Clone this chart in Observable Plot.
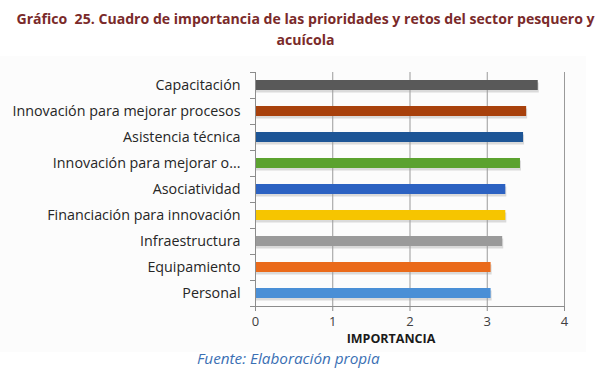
<!DOCTYPE html>
<html>
<head>
<meta charset="utf-8">
<script src="https://cdn.jsdelivr.net/npm/d3@7"></script>
<script src="https://cdn.jsdelivr.net/npm/@observablehq/plot@0.6"></script>
<style>
  html, body { margin: 0; padding: 0; background: #ffffff; }
  #wrap { position: relative; width: 611px; height: 375px; overflow: hidden; font-family: "Open Sans", sans-serif; }
  #title { position: absolute; left: 0; top: 8px; width: 611px; text-align: center; font-weight: bold; font-size: 14.1px; line-height: 21px; color: #7a2a2a; white-space: nowrap; }
  #chartbg { position: absolute; left: 0; top: 56px; width: 586px; height: 296px; background: #fcfcfc; }
  #plot { position: absolute; left: 0; top: 60px; }
  #xlabel { position: absolute; left: 291px; top: 331px; width: 200px; text-align: center; font-weight: bold; font-size: 12.5px; line-height: 15px; color: #1a1a1a; }
  #caption { position: absolute; left: 197px; top: 348px; font-style: italic; font-size: 15.3px; color: #3b70b4; }
</style>
</head>
<body>
<div id="wrap">
  <div id="title">Gráfico&nbsp; 25. Cuadro de importancia de las prioridades y retos del sector pesquero y<br>acuícola</div>
  <div id="chartbg"></div>
  <div id="plot"></div>
  <div id="xlabel">IMPORTANCIA</div>
  <div id="caption">Fuente: Elaboración propia</div>
</div>
<script>
const categories = [
  "Capacitación",
  "Innovación para mejorar procesos",
  "Asistencia técnica",
  "Innovación para mejorar o...",
  "Asociatividad",
  "Financiación para innovación",
  "Infraestructura",
  "Equipamiento",
  "Personal"
];
const values = [3.66, 3.51, 3.47, 3.43, 3.24, 3.24, 3.20, 3.05, 3.05];
const barColors = ["#595959", "#a8410c", "#1d5596", "#5ba22f", "#2c62c2", "#f6c500", "#9a9a9a", "#ea6a1a", "#4a8fd6"];
const xTicks = [0, 1, 2, 3, 4];

const data = categories.map((c, i) => ({category: c, value: values[i], color: barColors[i]}));
const lastCat = categories[categories.length - 1];

const chart = Plot.plot({
  width: 611,
  height: 290,
  marginLeft: 255,
  marginRight: 47,
  marginTop: 12,
  marginBottom: 44,
  style: {fontFamily: "'Open Sans', sans-serif", fontSize: "13px", color: "#404040", background: "transparent"},
  x: {domain: [0, 4], ticks: xTicks},
  y: {domain: categories, paddingInner: 0.62, paddingOuter: 0.31, align: 0.5},
  marks: [
    Plot.ruleX(xTicks.slice(1), {stroke: "#9a9a9a", strokeWidth: 1}),
    Plot.barX(data, {y: "category", x: "value", fill: "#9a9a9a", fillOpacity: 0.35, dy: 2.5, dx: 1}),
    Plot.barX(data, {y: "category", x: "value", fill: "color"}),
    Plot.ruleX([0], {stroke: "#8c8c8c", strokeWidth: 1}),
    Plot.ruleY([0], {y: () => lastCat, dy: 13, x1: 0, x2: 4, stroke: "#8c8c8c", strokeWidth: 1}),
    Plot.axisY({tickSize: 0, tickPadding: 15, fontSize: 14.3, fill: "#262626", label: null}),
    Plot.axisY({tickSize: 5, dy: -13, text: null, stroke: "#8c8c8c", label: null}),
    Plot.axisY([lastCat], {tickSize: 5, dy: 13, text: null, stroke: "#8c8c8c", label: null}),
    Plot.axisX({ticks: xTicks, tickFormat: d3.format("d"), tickSize: 5, tickPadding: 5, stroke: "#8c8c8c", fill: "#404040", fontSize: 13, label: null})
  ]
});
document.getElementById("plot").appendChild(chart);
</script>
</body>
</html>
